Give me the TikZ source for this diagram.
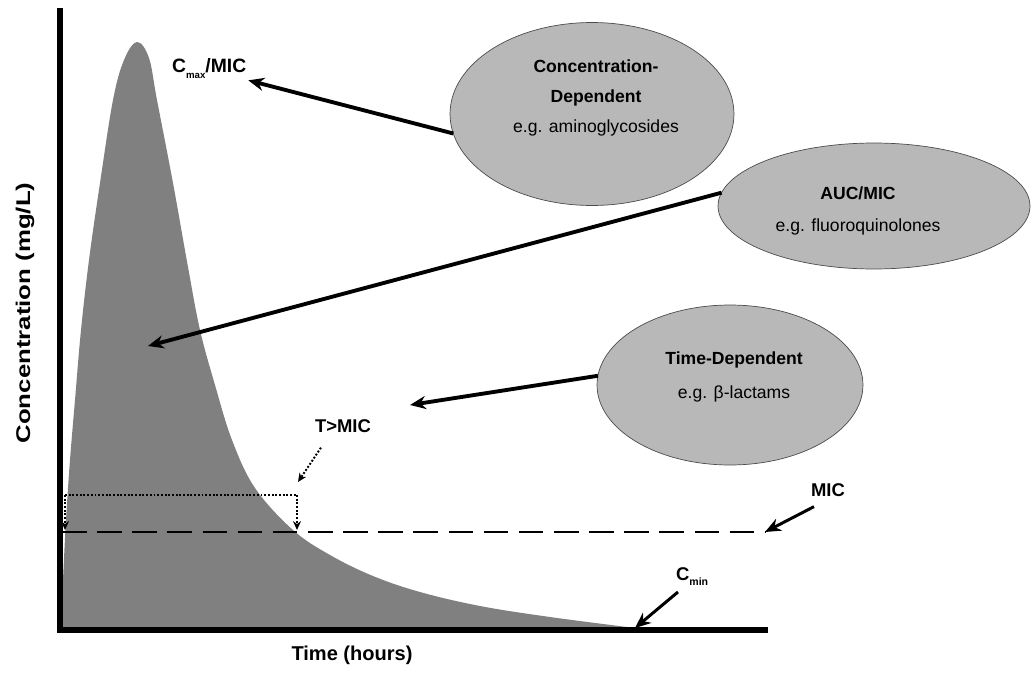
\documentclass[tikz,border=0pt]{standalone}
\usepackage{fontspec}
\setmainfont{Liberation Sans}
\newfontfamily\stretchsans[FakeStretch=1.3]{Liberation Sans}
\usepackage{tikz}
\usetikzlibrary{arrows,arrows.meta,shapes,positioning}
\definecolor{curvegray}{RGB}{128,128,128}
\definecolor{ovalgray}{RGB}{184,184,184}
\tikzstyle{pointer} = [line width=2.2pt,-{Stealth[length=9pt,width=7.5pt]},color=black]
\tikzstyle{dotline} = [line width=1.1pt,densely dotted]
\tikzstyle{dothead} = [-{Stealth[length=5pt,width=4.5pt]}]
\tikzstyle{oval} = [ellipse, draw=black!70, fill=ovalgray, inner sep=0pt, outer sep=0pt]
\tikzstyle{ovaltext} = [align=center, font=\fontsize{10}{12}\selectfont]
\tikzstyle{marker} = [font=\fontsize{10.5}{12}\selectfont\bfseries, inner sep=1pt]

\begin{document}
\begin{tikzpicture}[x=0.02cm, y=-0.02cm]
\useasboundingbox (0,0) rectangle (1032,673);

% concentration-time curve
\fill[curvegray] plot[smooth, tension=0.6] coordinates {(61,630) (63,580) (66,520) (70,460) (75,400) (81,330) (89,260) (100,183) (113,100) (124,60) (137,42) (149,58) (157,100) (173,183) (188,267) (200,330) (215,385) (232,440) (255,488) (293,530) (330,555) (373,576) (420,592) (480,606) (550,617) (635,628)} -- (635,630) -- (61,630) -- cycle;

% T>MIC box
\coordinate (boxtl) at (65,495);
\coordinate (boxtr) at (297,495);
\coordinate (boxbl) at (65,530);
\coordinate (boxbr) at (297,530);
\draw[dotline] (boxtl) -- (boxtr);
\draw[dotline,dothead] (boxtr) -- (boxbr);
\draw[dotline,dothead] (boxtl) -- (boxbl);

% MIC line
\coordinate (micstart) at (62,532);
\coordinate (micend) at (765,532);
\draw[line width=1.7pt, dash pattern=on 14pt off 6pt] (micstart) -- (micend);

% axes
\coordinate (ytop) at (60,8);
\coordinate (origin) at (60,630);
\coordinate (xend) at (768,630);
\draw[line width=3pt] (ytop) -- (origin) -- (xend);
\node[rotate=90, font=\stretchsans\fontsize{11.3}{13}\selectfont\bfseries] (ylbl) at (25,313) {Concentration (mg/L)};
\node[font=\fontsize{11.4}{13}\selectfont\bfseries] (xlbl) at (352,655) {Time (hours)};

% PK/PD indices
\node[oval, minimum width=5.68cm, minimum height=3.66cm] (conc) at (592,114) {};
\node[ovaltext] (conctext) at (596,98) {\textbf{Concentration-}\\[5pt]\textbf{Dependent}\\[5pt]e.g. aminoglycosides};
\node[oval, minimum width=6.24cm, minimum height=2.52cm] (auc) at (874,206) {};
\node[ovaltext] (auctext) at (858,211) {\textbf{AUC/MIC}\\[6pt]e.g. fluoroquinolones};
\node[oval, minimum width=5.32cm, minimum height=3.2cm] (time) at (730,385) {};
\node[ovaltext] (timetext) at (734,377) {\textbf{Time-Dependent}\\[7pt]e.g. β-lactams};

% labels
\node[marker, anchor=base west, font=\fontsize{11}{12}\selectfont\bfseries] (cmaxlbl) at (170,72) {C\raisebox{-0.6ex}{\fontsize{5.5}{6}\selectfont max}/MIC};
\node[marker] (tmiclbl) at (343,426) {T>MIC};
\node[marker] (miclbl) at (828,490) {MIC};
\node[marker, anchor=base west] (cminlbl) at (674,580) {C\raisebox{-0.6ex}{\fontsize{6}{6}\selectfont min}};

% arrows
\coordinate (auctip) at (148,346);
\coordinate (timetip) at (410,405);
\coordinate (tmictip) at (298,482);
\coordinate (cminpt) at (635,628);
\draw[pointer] (conc.188) -- (cmaxlbl.south east);
\draw[pointer] (auc.175) -- (auctip);
\draw[pointer] (time.176) -- (timetip);
\draw[dotline,dothead] ([shift={(8,13)}]tmiclbl.south west) -- (tmictip);
\draw[pointer, line width=1.7pt] ([shift={(5,8)}]miclbl.south west) -- (micend);
\draw[pointer, line width=1.7pt] ([shift={(4,4)}]cminlbl.south west) -- (cminpt);
\end{tikzpicture}
\end{document}
